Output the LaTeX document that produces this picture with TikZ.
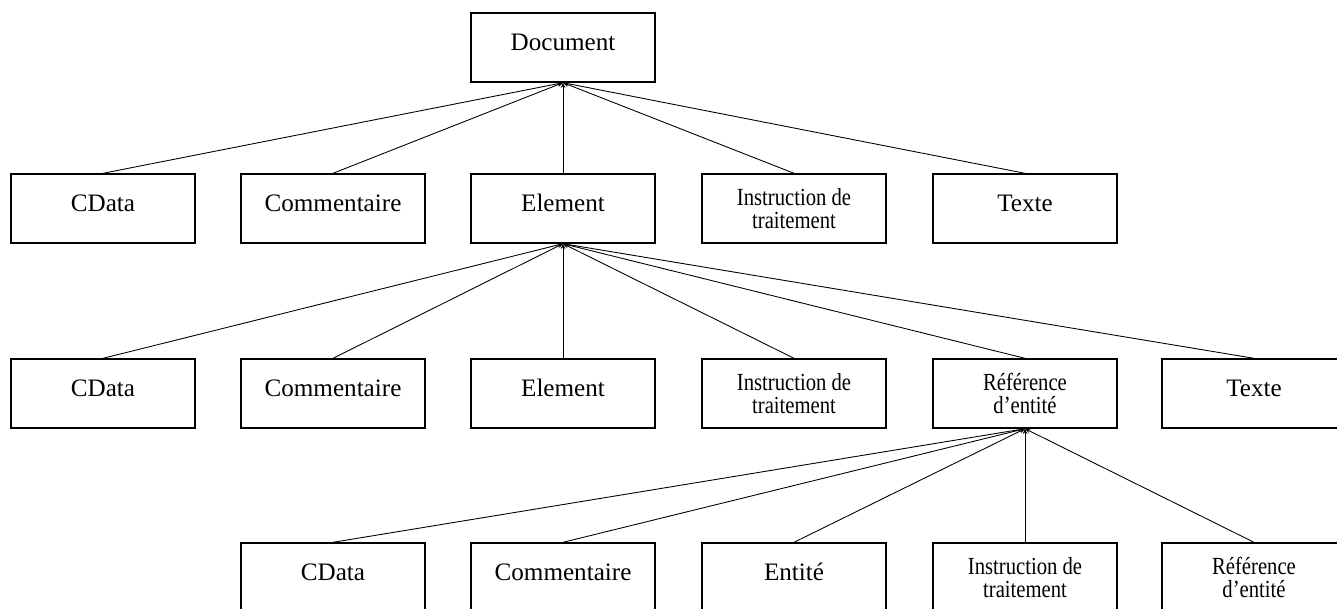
\documentclass[tikz,border=0pt]{standalone}
\usepackage{fontspec}
\setmainfont{Liberation Serif}
\newfontfamily\narrowfont[FakeStretch=0.84]{Liberation Serif}
\usetikzlibrary{arrows.meta}

\tikzset{
  box/.style={draw, line width=0.8pt, minimum width=3.68cm, minimum height=1.38cm,
    inner sep=0pt, align=center},
  single/.style={box, text depth=6pt, font=\fontsize{14.3}{16}\selectfont},
  double/.style={box, font=\narrowfont\fontsize{14}{13.5}\selectfont},
  link/.style={line width=0.5pt, -{Stealth[length=3pt,width=2.6pt]}}
}

\begin{document}
\begin{tikzpicture}[x=0.02cm, y=-0.02cm]
  % ==== CANVAS (pixels of the page) ====
  \useasboundingbox (0,0) rectangle (1337,608);
  \clip (0,0) rectangle (1337,608);

  % ==== COLUMNS AND ROWS ====
  \def\colA{103}
  \def\colB{333}
  \def\colC{563}
  \def\colD{794}
  \def\colE{1025}
  \def\colF{1254}
  \def\rowA{47.5}
  \def\rowB{208.5}
  \def\rowC{393.5}
  \def\rowD{577.5}

  % ==== ROOT ====
  \node[single] (doc) at (\colC,\rowA) {Document};

  % ==== LEVEL 1 ====
  \node[single] (cdata1) at (\colA,\rowB) {CData};
  \node[single] (comm1)  at (\colB,\rowB) {Commentaire};
  \node[single] (elem1)  at (\colC,\rowB) {Element};
  \node[double] (instr1) at (\colD,\rowB) {Instruction de\\traitement};
  \node[single] (texte1) at (\colE,\rowB) {Texte};

  % ==== LEVEL 2 ====
  \node[single] (cdata2) at (\colA,\rowC) {CData};
  \node[single] (comm2)  at (\colB,\rowC) {Commentaire};
  \node[single] (elem2)  at (\colC,\rowC) {Element};
  \node[double] (instr2) at (\colD,\rowC) {Instruction de\\traitement};
  \node[double] (ref2)   at (\colE,\rowC) {Référence\\d’entité};
  \node[single] (texte2) at (\colF,\rowC) {Texte};

  % ==== LEVEL 3 ====
  \node[single] (cdata3) at (\colB,\rowD) {CData};
  \node[single] (comm3)  at (\colC,\rowD) {Commentaire};
  \node[single] (ent3)   at (\colD,\rowD) {Entité};
  \node[double] (instr3) at (\colE,\rowD) {Instruction de\\traitement};
  \node[double] (ref3)   at (\colF,\rowD) {Référence\\d’entité};

  % ==== LINKS ====
  \foreach \n in {cdata1, comm1, elem1, instr1, texte1}
    \draw[link] (\n.north) -- (doc.south);
  \foreach \n in {cdata2, comm2, elem2, instr2, ref2, texte2}
    \draw[link] (\n.north) -- (elem1.south);
  \foreach \n in {cdata3, comm3, ent3, instr3, ref3}
    \draw[link] (\n.north) -- (ref2.south);
\end{tikzpicture}
\end{document}
